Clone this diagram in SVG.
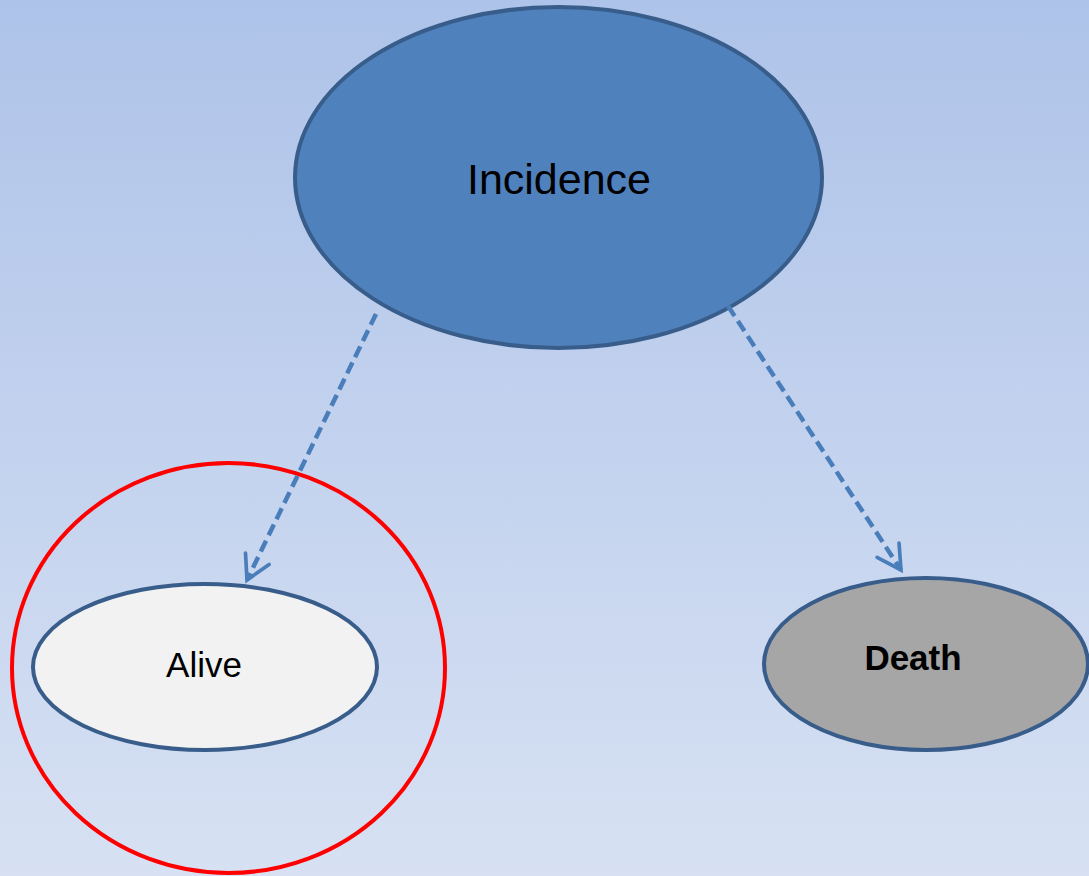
<svg xmlns="http://www.w3.org/2000/svg" width="1089" height="876" viewBox="0 0 1089 876">
  <defs>
    <linearGradient id="bg" x1="0" y1="0" x2="0" y2="1">
      <stop offset="0" stop-color="#AEC3E9"/>
      <stop offset="1" stop-color="#D7E1F3"/>
    </linearGradient>
    <marker id="openArrow" viewBox="0 0 12 12" refX="10" refY="6" markerWidth="7" markerHeight="7" markerUnits="strokeWidth" orient="auto">
      <path d="M1,1 L10,6 L1,11" fill="none" stroke="#4A7EBB" stroke-width="1.4" stroke-linecap="round" stroke-linejoin="miter"/>
    </marker>
    <style>
      .node { stroke: #385D8A; stroke-width: 4; }
      .label { font-family: "Liberation Sans", Arial, sans-serif; text-anchor: middle; dominant-baseline: central; fill: #000; }
      .conn { fill: none; stroke: #4A7EBB; stroke-width: 4.5; stroke-dasharray: 12 6; }
    </style>
  </defs>

  <rect x="0" y="0" width="1089" height="876" fill="url(#bg)"/>

  <g id="incidence">
    <ellipse class="node" cx="558.5" cy="177.5" rx="263.5" ry="170.5" fill="#4F81BD"/>
    <text class="label" x="559" y="179" font-size="43">Incidence</text>
  </g>

  <g id="alive">
    <ellipse class="node" cx="205" cy="667" rx="172" ry="83" fill="#F2F2F2"/>
    <text class="label" x="204" y="664" font-size="35">Alive</text>
  </g>

  <g id="death">
    <ellipse class="node" cx="926" cy="664" rx="162" ry="86" fill="#A6A6A6"/>
    <text class="label" x="913" y="657" font-size="35" font-weight="bold">Death</text>
  </g>

  <g id="highlight">
    <ellipse cx="228.5" cy="668" rx="216.5" ry="205" fill="none" stroke="#FF0000" stroke-width="4"/>
  </g>

  <g id="connectors">
    <path class="conn" d="M376,314 L247,580" marker-end="url(#openArrow)"/>
    <path class="conn" d="M728,306 L901,570" marker-end="url(#openArrow)"/>
  </g>
</svg>
